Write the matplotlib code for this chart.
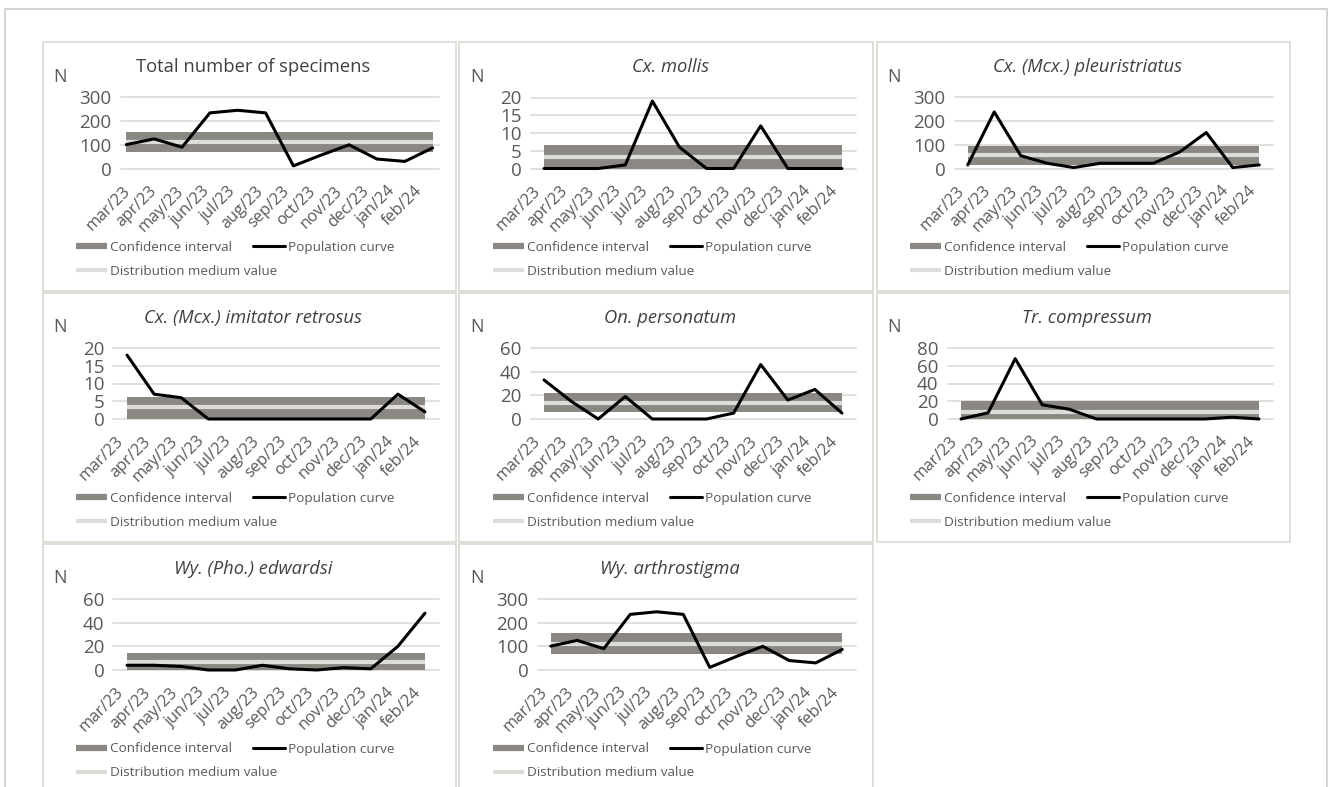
import numpy as np
import matplotlib
matplotlib.use("Agg")
import matplotlib.pyplot as plt
from matplotlib.lines import Line2D
from matplotlib.patches import Rectangle
import matplotlib.transforms as mtransforms

plt.rcParams['font.family'] = ['Open Sans', 'DejaVu Sans']

# ---------------------------------------------------------------- data
months = ["mar/23", "apr/23", "may/23", "jun/23", "jul/23", "aug/23",
          "sep/23", "oct/23", "nov/23", "dec/23", "jan/24", "feb/24"]

total_counts = [101, 125, 90, 235, 246, 235, 11, 57, 100, 40, 30, 87]
total_ci = [68, 156]
total_mean = 111
total_ticks = [0, 100, 200, 300]

mollis_counts = [0, 0, 0, 1, 19, 6, 0, 0, 12, 0, 0, 0]
mollis_ci = [0, 6.6]
mollis_mean = 3.1
mollis_ticks = [0, 5, 10, 15, 20]

pleuristriatus_counts = [15, 239, 54, 22, 4, 22, 22, 22, 70, 152, 4, 15]
pleuristriatus_ci = [15, 96]
pleuristriatus_mean = 58
pleuristriatus_ticks = [0, 100, 200, 300]

retrosus_counts = [18, 7, 6, 0, 0, 0, 0, 0, 0, 0, 7, 2]
retrosus_ci = [0, 6.1]
retrosus_mean = 3.4
retrosus_ticks = [0, 5, 10, 15, 20]

personatum_counts = [33, 15, 0, 19, 0, 0, 0, 5, 46, 16, 25, 5]
personatum_ci = [6.2, 21.6]
personatum_mean = 13.2
personatum_ticks = [0, 20, 40, 60]

compressum_counts = [0, 7, 68, 16, 11, 0, 0, 0, 0, 0, 2, 0]
compressum_ci = [0, 20]
compressum_mean = 8.3
compressum_ticks = [0, 20, 40, 60, 80]

edwardsi_counts = [4, 4, 3, 0, 0, 4, 1, 0, 2, 1, 20, 48]
edwardsi_ci = [0, 14]
edwardsi_mean = 6.5
edwardsi_ticks = [0, 20, 40, 60]

arthrostigma_counts = [101, 125, 90, 235, 246, 235, 11, 57, 100, 40, 30, 87]
arthrostigma_ci = [68, 156]
arthrostigma_mean = 111
arthrostigma_ticks = [0, 100, 200, 300]

panels = [
    ("Total number of specimens", "normal", total_counts, total_ci, total_mean, total_ticks, 0.21),
    ("Cx. mollis", "italic", mollis_counts, mollis_ci, mollis_mean, mollis_ticks, 0.5),
    ("Cx. (Mcx.) pleuristriatus", "italic", pleuristriatus_counts, pleuristriatus_ci, pleuristriatus_mean, pleuristriatus_ticks, 0.5),
    ("Cx. (Mcx.) imitator retrosus", "italic", retrosus_counts, retrosus_ci, retrosus_mean, retrosus_ticks, 0.5),
    ("On. personatum", "italic", personatum_counts, personatum_ci, personatum_mean, personatum_ticks, 0.5),
    ("Tr. compressum", "italic", compressum_counts, compressum_ci, compressum_mean, compressum_ticks, 0.5),
    ("Wy. (Pho.) edwardsi", "italic", edwardsi_counts, edwardsi_ci, edwardsi_mean, edwardsi_ticks, 0.5),
    ("Wy. arthrostigma", "italic", arthrostigma_counts, arthrostigma_ci, arthrostigma_mean, arthrostigma_ticks, 0.5),
]

# ---------------------------------------------------------------- style
CI_COLOR = "#8b8884"
MEAN_COLOR = "#dcdcd8"
CURVE_COLOR = "#000000"
GRID_COLOR = "#d9d9d2"
BOX_COLOR = "#d6d6cf"
TEXT_COLOR = "#595959"
TITLE_COLOR = "#404040"

W, H = 1328, 787
fig = plt.figure(figsize=(W / 100, H / 100), dpi=100)
fig.patch.set_facecolor("white")


def fx(px):
    return px / W


def fy(py):
    return 1 - py / H


# outer frame
fig.patches.append(Rectangle((fx(4.5), fy(800)), fx(1322.5), (800 - 8.5) / H,
                             transform=fig.transFigure, fill=False,
                             ec="#c8c8c8", lw=1.1))

col_left = [42.5, 459.5, 876.5]
row_top = [42.5, 293.0, 544.0]
box_w, box_h = 413.5, 248.5

x = np.arange(len(months))

for k, (title, fstyle, counts, ci, mean, ticks, pad) in enumerate(panels):
    bx = col_left[k % 3]
    by = row_top[k // 3]

    fig.patches.append(Rectangle((fx(bx), fy(by + box_h)), fx(box_w), box_h / H,
                                 transform=fig.transFigure, fill=False,
                                 ec=BOX_COLOR, lw=1.1))

    left = bx + (78 if ticks[-1] >= 100 else 71)
    right = bx + 396
    top = by + 55
    bottom = by + 126
    ax = fig.add_axes([fx(left), fy(bottom), fx(right - left), (bottom - top) / H])
    ax.set_facecolor("none")

    n = len(months)
    ax.fill_between(x, [ci[0]] * n, [ci[1]] * n, color=CI_COLOR, lw=0, zorder=2)
    ax.plot(x, [mean] * n, color=MEAN_COLOR, lw=3.0, zorder=3,
            solid_capstyle="butt")
    ax.plot(x, counts, color=CURVE_COLOR, lw=2.2, zorder=4, clip_on=False,
            solid_joinstyle="round", solid_capstyle="round")

    ax.set_ylim(0, ticks[-1])
    ax.set_yticks(ticks)
    ax.set_yticklabels([str(t) for t in ticks])
    xmin, xmax = -pad, n - 1 + pad
    ax.set_xlim(xmin, xmax)
    band = (xmax - xmin) / n
    ax.set_xticks([xmin + band * (i + 0.5) for i in range(n)])
    ax.set_xticklabels(months, rotation=45, ha="right")
    shift = mtransforms.ScaledTranslation(10 / 100, 0, fig.dpi_scale_trans)
    for lab in ax.get_xticklabels():
        lab.set_transform(lab.get_transform() + shift)

    ax.tick_params(axis="y", length=0, pad=6.5, labelsize=13.5, labelcolor=TEXT_COLOR)
    ax.tick_params(axis="x", length=0, pad=10.5, labelsize=11.8, labelcolor=TEXT_COLOR)
    for s in ax.spines.values():
        s.set_visible(False)
    ax.grid(axis="y", color=GRID_COLOR, lw=1.1)
    ax.set_axisbelow(True)
    for gl in ax.yaxis.get_gridlines():
        gl.set_clip_on(False)

    fig.text(fx(bx + box_w / 2 + 4), fy(by + 25), title, ha="center", va="center",
             fontsize=13.2, color=TITLE_COLOR, style=fstyle)
    fig.text(fx(bx + 11), fy(by + 34), "N", ha="left", va="center",
             fontsize=13.0, color=TEXT_COLOR)

    ci_h = Line2D([], [], color=CI_COLOR, lw=4.5, solid_capstyle="butt")
    pop_h = Line2D([], [], color=CURVE_COLOR, lw=2.2, solid_capstyle="round")
    mean_h = Line2D([], [], color=MEAN_COLOR, lw=3.0, solid_capstyle="butt")
    common = dict(frameon=False, fontsize=9.7, handlelength=2.35, handletextpad=0.22,
                  borderpad=0, borderaxespad=0, labelcolor=TEXT_COLOR,
                  bbox_transform=fig.transFigure, loc="center left")
    leg1 = ax.legend([ci_h, pop_h], ["Confidence interval", "Population curve"],
                     ncol=2, columnspacing=1.55,
                     bbox_to_anchor=(fx(bx + 33), fy(by + 205)), **common)
    ax.add_artist(leg1)
    ax.legend([mean_h], ["Distribution medium value"],
              bbox_to_anchor=(fx(bx + 33), fy(by + 229)), **common)

fig.savefig("out.png", dpi=100, facecolor="white")
